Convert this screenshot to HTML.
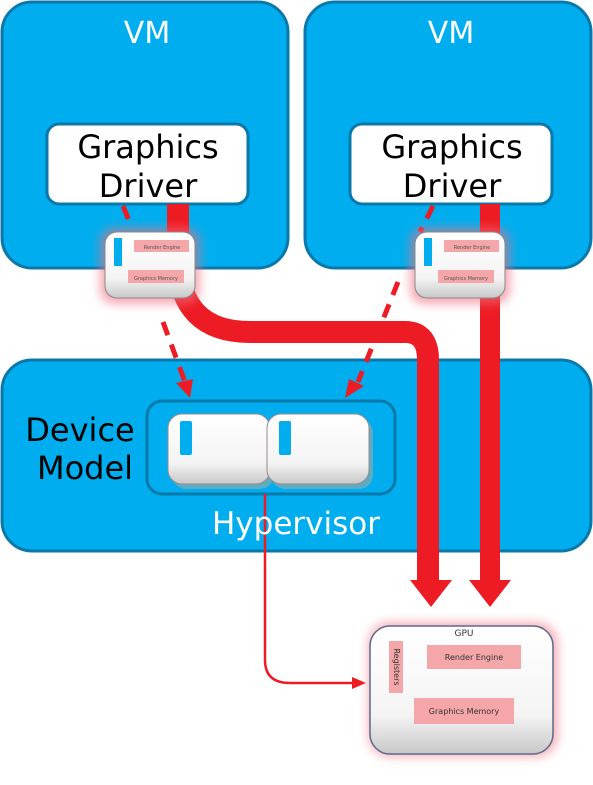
<!DOCTYPE html>
<html><head><style>
body{margin:0;background:#fff;}
svg{display:block;font-family:"DejaVu Sans","Liberation Sans",sans-serif;}
</style></head><body>
<svg width="593" height="785" viewBox="0 0 593 785" xmlns="http://www.w3.org/2000/svg">
<defs>
<filter id="glow" x="-30%" y="-30%" width="160%" height="160%"><feGaussianBlur stdDeviation="5"/></filter>
<linearGradient id="chipg" x1="0" y1="0" x2="0" y2="1"><stop offset="0" stop-color="#ffffff"/><stop offset="0.7" stop-color="#f4f4f4"/><stop offset="1" stop-color="#c8c8c8"/></linearGradient>
</defs>
<!-- VMs -->
<rect x="2" y="2" width="286" height="266" rx="30" fill="#00aeef" stroke="#0a78aa" stroke-width="3"/>
<rect x="305" y="2" width="286" height="266" rx="30" fill="#00aeef" stroke="#0a78aa" stroke-width="3"/>
<text x="147" y="43" font-size="30" fill="#fff" text-anchor="middle">VM</text>
<text x="451" y="43" font-size="30" fill="#fff" text-anchor="middle">VM</text>
<rect x="47" y="124" width="201" height="80" rx="12" fill="#fff" stroke="#0a78aa" stroke-width="3"/>
<rect x="350" y="124" width="202" height="80" rx="12" fill="#fff" stroke="#0a78aa" stroke-width="3"/>
<text x="148" y="158" font-size="32" text-anchor="middle">Graphics</text>
<text x="148" y="197" font-size="32" text-anchor="middle">Driver</text>
<text x="452" y="158" font-size="32" text-anchor="middle">Graphics</text>
<text x="452" y="197" font-size="32" text-anchor="middle">Driver</text>
<!-- Hypervisor -->
<rect x="2" y="360" width="589" height="191" rx="30" fill="#00aeef" stroke="#0a78aa" stroke-width="3"/>
<text x="80" y="441" font-size="32" text-anchor="middle">Device</text>
<text x="85" y="479" font-size="32" text-anchor="middle">Model</text>
<rect x="147" y="401" width="248" height="93" rx="15" fill="none" stroke="#0a78aa" stroke-width="3"/>
<!-- DM chips -->
<g>
<rect x="172" y="419" width="102" height="70" rx="14" fill="#9aa" opacity="0.6"/>
<rect x="168" y="414" width="102" height="70" rx="14" fill="url(#chipg)" stroke="#9a8a8a" stroke-width="1"/>
<rect x="180" y="421" width="12" height="34" rx="2" fill="#00aeef"/>
<rect x="271" y="419" width="102" height="70" rx="14" fill="#9aa" opacity="0.6"/>
<rect x="267" y="414" width="102" height="70" rx="14" fill="url(#chipg)" stroke="#9a8a8a" stroke-width="1"/>
<rect x="279" y="421" width="12" height="34" rx="2" fill="#00aeef"/>
</g>
<!-- thin -->
<path d="M265 494 L265 660 Q265 683 290 683 L355 683" fill="none" stroke="#ed1c24" stroke-width="2.5"/>
<polygon points="352,677 366,683 352,689" fill="#ed1c24"/>
<text x="296" y="534" font-size="31" fill="#fff" text-anchor="middle">Hypervisor</text>
<!-- thick arrows -->
<path d="M178 204 L178 260 Q180 332 250 332 L405 332 Q428 332 428 360 L428 582" fill="none" stroke="#ed1c24" stroke-width="22"/>
<polygon points="410,580 452,580 431,607" fill="#ed1c24"/>
<path d="M490 204 L490 582" stroke="#ed1c24" stroke-width="20"/>
<polygon points="469,580 511,580 490,607" fill="#ed1c24"/>
<!-- dashed -->
<path d="M123 206 L132 228 M163 322 L185 382" stroke="#ed1c24" stroke-width="5" stroke-dasharray="14,10"/>
<polygon points="176,383 193,379 190,398" fill="#ed1c24"/>
<path d="M433 206 L420 232 M398 282 L358 382" stroke="#ed1c24" stroke-width="5" stroke-dasharray="14,10"/>
<polygon points="349,379 364,386 345,398" fill="#ed1c24"/>
<!-- VM chips -->
<g>
<rect x="100" y="228" width="100" height="76" rx="14" fill="#f07080" opacity="0.6" filter="url(#glow)"/>
<rect x="105" y="232" width="90" height="66" rx="12" fill="url(#chipg)" stroke="#888" stroke-width="1"/>
<rect x="114" y="238" width="8" height="28" fill="#00aeef"/>
<rect x="134" y="240" width="55" height="12" fill="#f4a6a8"/>
<rect x="128" y="270" width="56" height="13" fill="#f4a6a8"/>
<text x="162" y="249" font-size="5" text-anchor="middle" fill="#555">Render Engine</text>
<text x="156" y="280" font-size="5" text-anchor="middle" fill="#555">Graphics Memory</text>
</g>
<g>
<rect x="410" y="228" width="100" height="76" rx="14" fill="#f07080" opacity="0.6" filter="url(#glow)"/>
<rect x="415" y="232" width="90" height="66" rx="12" fill="url(#chipg)" stroke="#888" stroke-width="1"/>
<rect x="424" y="238" width="8" height="28" fill="#00aeef"/>
<rect x="444" y="240" width="55" height="12" fill="#f4a6a8"/>
<rect x="438" y="270" width="56" height="13" fill="#f4a6a8"/>
<text x="472" y="249" font-size="5" text-anchor="middle" fill="#555">Render Engine</text>
<text x="466" y="280" font-size="5" text-anchor="middle" fill="#555">Graphics Memory</text>
</g>
<!-- big GPU -->
<rect x="368" y="622" width="190" height="135" rx="22" fill="#f07080" opacity="0.55" filter="url(#glow)"/>
<rect x="370" y="626" width="183" height="128" rx="20" fill="url(#chipg)" stroke="#5a6a8a" stroke-width="1.5"/>
<text x="464" y="636" font-size="9" text-anchor="middle" fill="#333">GPU</text>
<rect x="389" y="641" width="14" height="52" fill="#f4a6a8"/>
<text transform="translate(394,667) rotate(90)" font-size="8" text-anchor="middle" fill="#333">Registers</text>
<rect x="427" y="645" width="94" height="24" fill="#f4a6a8"/>
<text x="474" y="660" font-size="8" text-anchor="middle" fill="#333">Render Engine</text>
<rect x="414" y="698" width="100" height="26" fill="#f4a6a8"/>
<text x="464" y="714" font-size="8" text-anchor="middle" fill="#333">Graphics Memory</text>
</svg>
</body></html>
